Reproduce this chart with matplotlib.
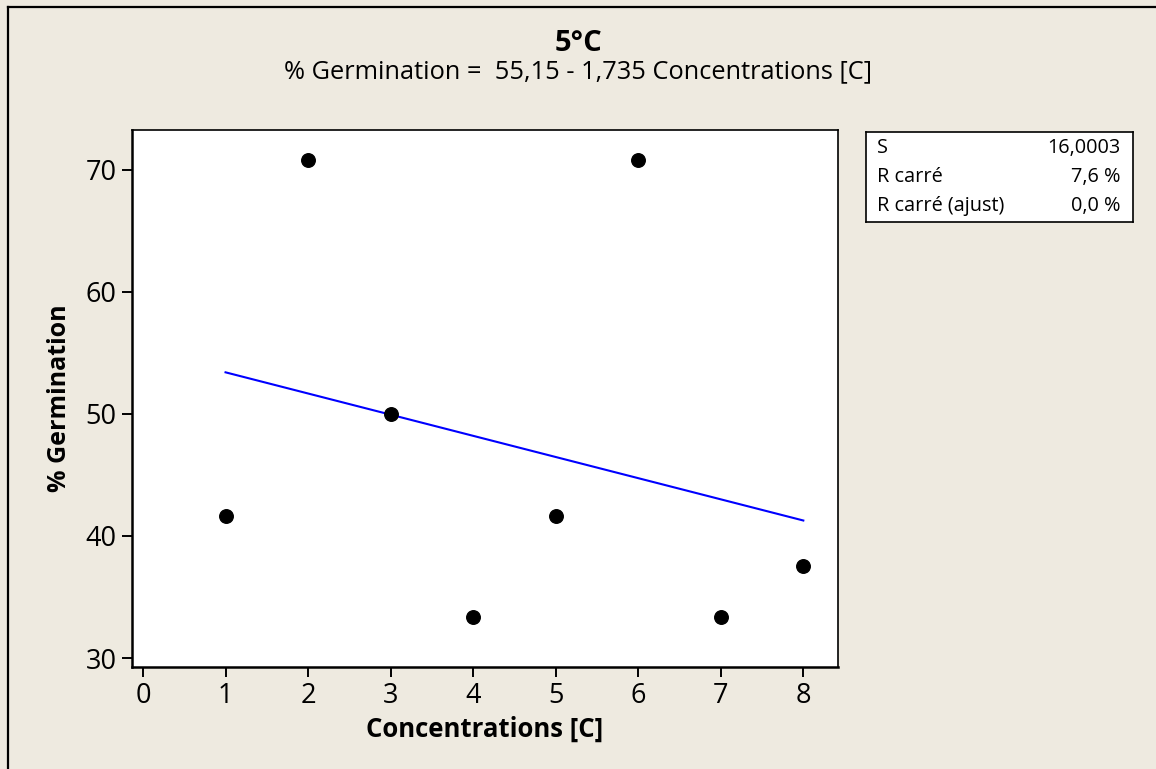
import matplotlib
matplotlib.use("Agg")
import numpy as np
from matplotlib import pyplot as plt
from matplotlib.lines import Line2D

plt.rcParams['font.family'] = ['Open Sans', 'DejaVu Sans']

# données
concentrations = [1, 2, 3, 4, 5, 6, 7, 8]
germination = [41.67, 70.83, 50.0, 33.33, 41.67, 70.83, 33.33, 37.5]
intercept = 55.15
slope = -1.735
stats_labels = ["S", "R carré", "R carré (ajust)"]
stats_values = ["16,0003", "7,6 %", "0,0 %"]
x_ticks = [0, 1, 2, 3, 4, 5, 6, 7, 8]
y_ticks = [30, 40, 50, 60, 70]

bg = '#EEEAE0'
fig = plt.figure(figsize=(11.56, 7.69), dpi=100, facecolor=bg)

# cadre extérieur
fig.add_artist(Line2D([0.0072, 0.0072], [0, 0.9915], transform=fig.transFigure, color='black', lw=1.6))
fig.add_artist(Line2D([0.0072, 1], [0.9915, 0.9915], transform=fig.transFigure, color='black', lw=1.6))

# graphique principal
ax = fig.add_axes([0.1142, 0.1326, 0.6107, 0.6984])
ax.set_facecolor('white')
ax.scatter(concentrations, germination, s=95, color='black', zorder=3)
xs = np.array([concentrations[0], concentrations[-1]])
ax.plot(xs, intercept + slope * xs, color='#0000FF', lw=1.5, zorder=2)

ax.set_xlim(-0.133, 8.42)
ax.set_ylim(29.26, 73.28)
ax.set_xticks(x_ticks)
ax.set_yticks(y_ticks)
ax.tick_params(direction='out', length=7, width=1.4, labelsize=19.5, pad=4)
for s in ['top', 'right']:
    ax.spines[s].set_linewidth(1.2)
for s in ['left', 'bottom']:
    ax.spines[s].set_linewidth(1.8)

ax.set_xlabel('Concentrations [C]', fontsize=18.5, fontweight='bold', labelpad=4)
ax.set_ylabel('% Germination', fontsize=18, fontweight='bold', labelpad=10)

# titres
fig.text(0.5, 0.944, '5°C', ha='center', va='center', fontsize=21, fontweight='bold')
fig.text(0.5, 0.907, '% Germination =  55,15 - 1,735 Concentrations [C]',
         ha='center', va='center', fontsize=18.3)

# tableau des statistiques
box = fig.add_axes([0.749, 0.711, 0.231, 0.117])
box.set_facecolor('white')
box.set_xticks([])
box.set_yticks([])
for s in box.spines.values():
    s.set_linewidth(1.2)
row_y = [0.82, 0.5, 0.18]
for lab, val, yy in zip(stats_labels, stats_values, row_y):
    box.text(0.04, yy, lab, ha='left', va='center', fontsize=14.3, transform=box.transAxes)
    box.text(0.955, yy, val, ha='right', va='center', fontsize=14.3, transform=box.transAxes)

fig.savefig('out.png', dpi=100, facecolor=bg)
